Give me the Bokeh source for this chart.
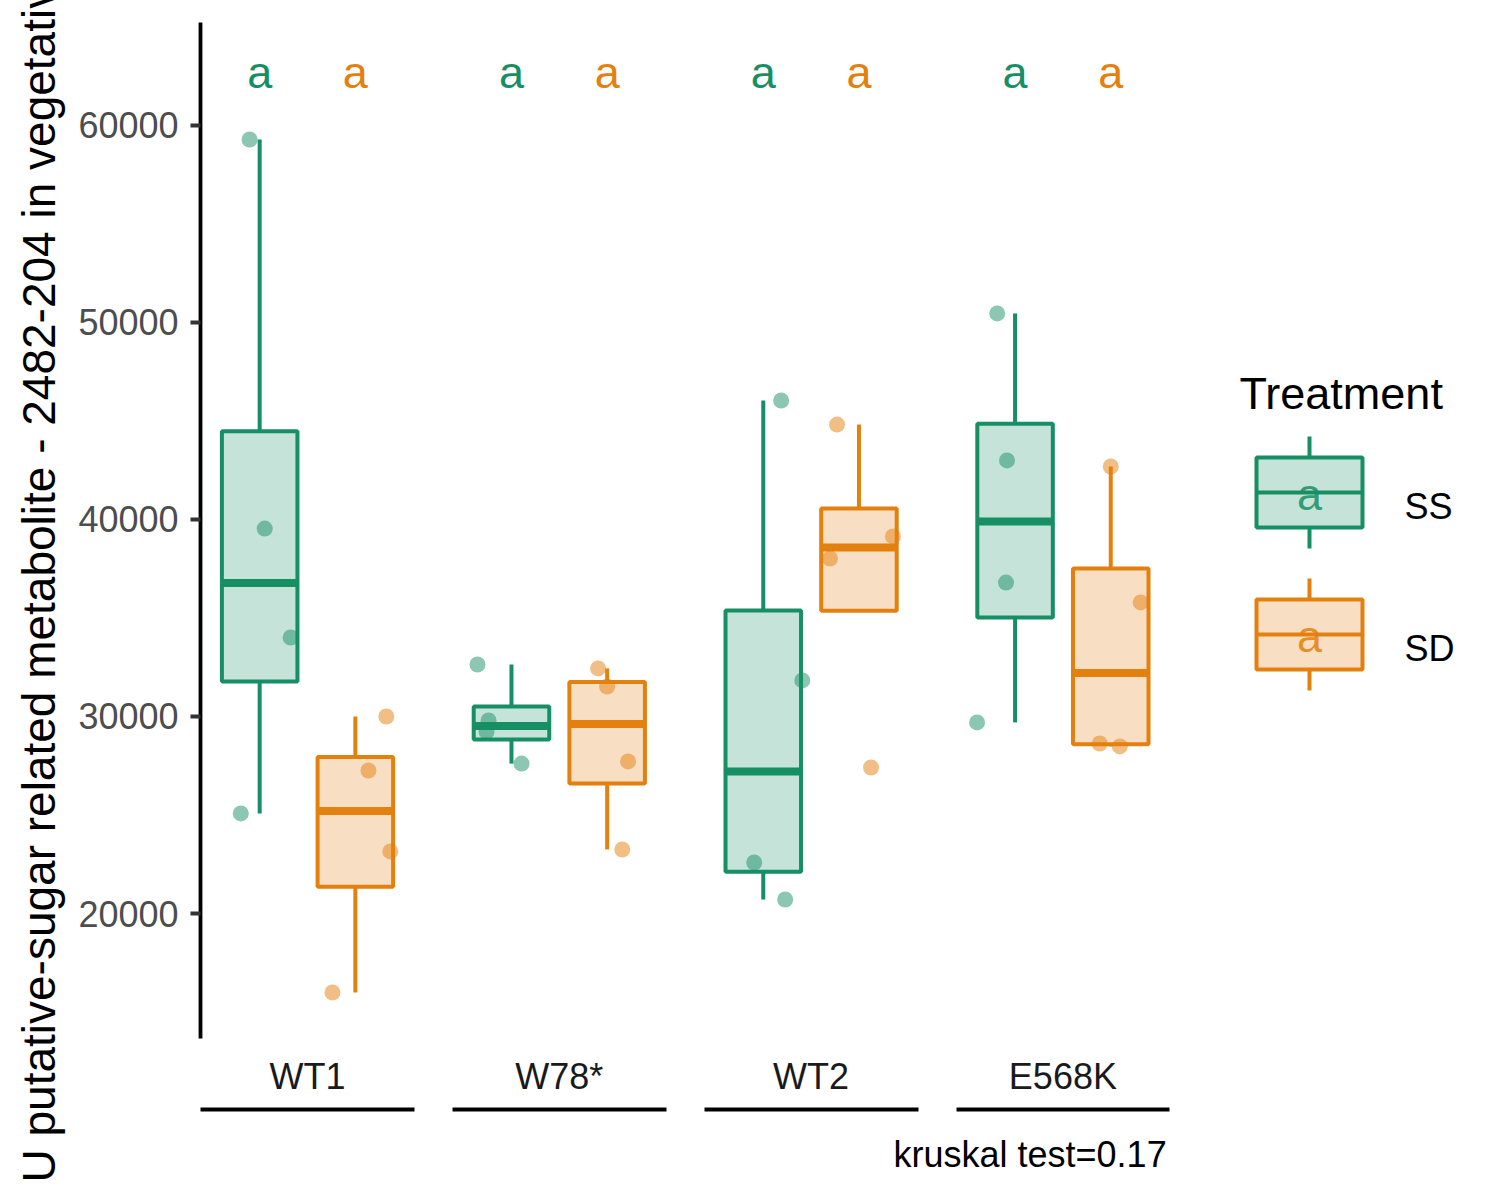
import numpy as np
from bokeh.plotting import figure
from bokeh.models import Range1d, LinearAxis, FixedTicker, Title, BasicTickFormatter, ColumnDataSource
from bokeh.core.properties import value
from bokeh.embed import file_html
from bokeh.resources import INLINE

# ---------------- data ----------------
genotypes = ["WT1", "W78*", "WT2", "E568K"]
treatments = ["SS", "SD"]
treatment_colors = ["#178F65", "#E3800E"]

ss_WT1 = [59290, 39540, 34010, 25080]
sd_WT1 = [30000, 27260, 23150, 15990]
ss_W78 = [32640, 29800, 29240, 27610]
sd_W78 = [32440, 31520, 27720, 23250]
ss_WT2 = [46040, 31830, 22590, 20710]
sd_WT2 = [44820, 38020, 39140, 27410]
ss_E568K = [50460, 43000, 36800, 29700]
sd_E568K = [42690, 35790, 28630, 28480]

# horizontal jitter of each point (category units)
jit_ss_WT1 = [-0.040, 0.020, 0.123, -0.075]
jit_sd_WT1 = [0.123, 0.052, 0.139, -0.091]
jit_ss_W78 = [-0.135, -0.091, -0.099, 0.040]
jit_sd_W78 = [-0.036, 0.000, 0.083, 0.060]
jit_ss_WT2 = [0.071, 0.155, -0.036, 0.087]
jit_sd_WT2 = [-0.087, -0.115, 0.135, 0.048]
jit_ss_E568K = [-0.071, -0.032, -0.036, -0.151]
jit_sd_E568K = [0.000, 0.119, -0.044, 0.036]

letters_ss = ["a", "a", "a", "a"]
letters_sd = ["a", "a", "a", "a"]
letter_y = 62700
kruskal_p = 0.17
y_ticks = [20000, 30000, 40000, 50000, 60000]
y_title = "U putative-sugar related metabolite - 2482-204 in vegetative cell"

series = {
    "SS": [ss_WT1, ss_W78, ss_WT2, ss_E568K],
    "SD": [sd_WT1, sd_W78, sd_WT2, sd_E568K],
}
jitters = {
    "SS": [jit_ss_WT1, jit_ss_W78, jit_ss_WT2, jit_ss_E568K],
    "SD": [jit_sd_WT1, jit_sd_W78, jit_sd_WT2, jit_sd_E568K],
}
letters = {"SS": letters_ss, "SD": letters_sd}

# ---------------- layout constants ----------------
FONT = "Liberation Sans"
PX_PER_UNIT = 251.8
FRAME_W, FRAME_H = 1292, 1016
X0 = 0.575
DODGE = 0.19
BOX_W = 0.3
LW = 4.0
MED_LW = 8.0


def box_stats(v):
    v = np.asarray(v, float)
    q1, q2, q3 = np.quantile(v, [0.25, 0.5, 0.75])
    iqr = q3 - q1
    inside = v[(v >= q1 - 1.5 * iqr) & (v <= q3 + 1.5 * iqr)]
    lo = min(q1, inside.min())
    hi = max(q3, inside.max())
    return q1, q2, q3, lo, hi


p = figure(frame_width=FRAME_W, frame_height=FRAME_H,
           x_range=Range1d(X0, X0 + FRAME_W / PX_PER_UNIT),
           y_range=Range1d(13655, 65228),
           output_backend="svg", toolbar_location=None,
           min_border_left=200, min_border_right=0, min_border_top=22, min_border_bottom=150,
           background_fill_color="white", border_fill_color="white")
p.outline_line_color = None
p.xgrid.visible = False
p.ygrid.visible = False

# pixel ranges for the legend block (page pixel coordinates)
p.extra_x_ranges = {"px": Range1d(200, 200 + FRAME_W)}
p.extra_y_ranges = {"px": Range1d(22 + FRAME_H, 22)}

for j, t in enumerate(treatments):
    col = treatment_colors[j]
    off = -DODGE if t == "SS" else DODGE
    xs, q1s, q2s, q3s, los, his = [], [], [], [], [], []
    px_, py_ = [], []
    for i, vals in enumerate(series[t]):
        xc = i + 1 + off
        q1, q2, q3, lo, hi = box_stats(vals)
        xs.append(xc); q1s.append(q1); q2s.append(q2); q3s.append(q3); los.append(lo); his.append(hi)
        for v, jx in zip(vals, jitters[t][i]):
            px_.append(xc + jx); py_.append(v)
    src = ColumnDataSource(dict(x=xs, q1=q1s, q2=q2s, q3=q3s, lo=los, hi=his,
                                x0=[x - BOX_W / 2 for x in xs], x1=[x + BOX_W / 2 for x in xs]))
    p.segment(x0="x", y0="q3", x1="x", y1="hi", source=src, line_color=col, line_width=LW)
    p.segment(x0="x", y0="q1", x1="x", y1="lo", source=src, line_color=col, line_width=LW)
    p.vbar(x="x", width=BOX_W, top="q3", bottom="q1", source=src,
           fill_color=col, fill_alpha=0.25, line_color=col, line_width=LW)
    p.segment(x0="x0", y0="q2", x1="x1", y1="q2", source=src, line_color=col, line_width=MED_LW)
    p.scatter(px_, py_, size=16, fill_color=col, fill_alpha=0.5, line_color=None)
    p.text(x=xs, y=[letter_y] * len(xs), text=letters[t], text_color=col,
           text_font=value(FONT), text_font_size=value("45px"),
           text_align="center", text_baseline="middle")

# ---------------- legend (drawn in pixel coordinates) ----------------
key_cx = 1309
key_w = 106
key_h = 70
key_top = [457, 599]
whisk = 21
p.text(x=[1239], y=[393], text=["Treatment"], text_color="black",
       text_font=value(FONT), text_font_size=value("45px"),
       text_align="left", text_baseline="alphabetic",
       x_range_name="px", y_range_name="px")
for j, t in enumerate(treatments):
    col = treatment_colors[j]
    top = key_top[j]
    bot = top + key_h
    mid = (top + bot) / 2
    p.segment(x0=[key_cx, key_cx], y0=[top - whisk, bot], x1=[key_cx, key_cx], y1=[top, bot + whisk],
              line_color=col, line_width=LW, x_range_name="px", y_range_name="px")
    p.quad(left=[key_cx - key_w / 2], right=[key_cx + key_w / 2], top=[top], bottom=[bot],
           fill_color=col, fill_alpha=0.25, line_color=col, line_width=LW,
           x_range_name="px", y_range_name="px")
    p.segment(x0=[key_cx - key_w / 2], y0=[mid], x1=[key_cx + key_w / 2], y1=[mid],
              line_color=col, line_width=LW, x_range_name="px", y_range_name="px")
    p.text(x=[key_cx], y=[mid + 2], text=[letters[t][0]], text_color=col, text_alpha=0.85,
           text_font=value(FONT), text_font_size=value("45px"),
           text_align="center", text_baseline="middle", x_range_name="px", y_range_name="px")
    p.text(x=[1404], y=[bot - 21], text=[t], text_color="black",
           text_font=value(FONT), text_font_size=value("36px"),
           text_align="left", text_baseline="alphabetic", x_range_name="px", y_range_name="px")

# ---------------- axes ----------------
ya = p.yaxis[0]
ya.ticker = FixedTicker(ticks=y_ticks)
ya.formatter = BasicTickFormatter(use_scientific=False)
ya.major_label_text_font = FONT
ya.major_label_text_font_size = "36px"
ya.major_label_text_color = "#4D4D4D"
ya.major_tick_out = 10
ya.major_tick_in = 0
ya.major_tick_line_width = 3.8
ya.major_tick_line_color = "#333333"
ya.minor_tick_line_color = None
ya.axis_line_width = 3.8
ya.axis_line_color = "black"
ya.major_label_standoff = 12
ya.axis_label = y_title
ya.axis_label_text_font = FONT
ya.axis_label_text_font_size = "46px"
ya.axis_label_text_font_style = "normal"
ya.axis_label_text_color = "black"
ya.axis_label_standoff = 10

xa = p.xaxis[0]
xa.ticker = FixedTicker(ticks=[i + 1 for i in range(len(genotypes))])
xa.major_label_overrides = {i + 1: g for i, g in enumerate(genotypes)}
xa.major_label_text_font = FONT
xa.major_label_text_font_size = "36px"
xa.major_label_text_color = "#1A1A1A"
xa.axis_line_color = None
xa.major_tick_line_color = None
xa.minor_tick_line_color = None
xa.major_tick_out = 0
xa.major_tick_in = 0
xa.major_label_standoff = 17
# invisible spacer label: pushes the group underlines below the tick labels
xa.axis_label = "_"
xa.axis_label_text_font_size = "5px"
xa.axis_label_standoff = 1
xa.axis_label_text_color = None

ul = LinearAxis(ticker=FixedTicker(ticks=[]), bounds=(X0, len(genotypes) + 1 - X0),
                axis_line_width=3.8, axis_line_color="black", axis_line_dash="214 38",
                major_tick_line_color=None, minor_tick_line_color=None,
                major_tick_out=0, major_tick_in=0, major_label_text_font_size="0px")
p.add_layout(ul, "below")

p.add_layout(Title(text=f"kruskal test={kruskal_p}", align="left", offset=693, standoff=45,
                   text_font=FONT, text_font_size="36px", text_font_style="normal",
                   text_color="black"), "below")

open("out.html", "w").write(file_html(p, INLINE))
